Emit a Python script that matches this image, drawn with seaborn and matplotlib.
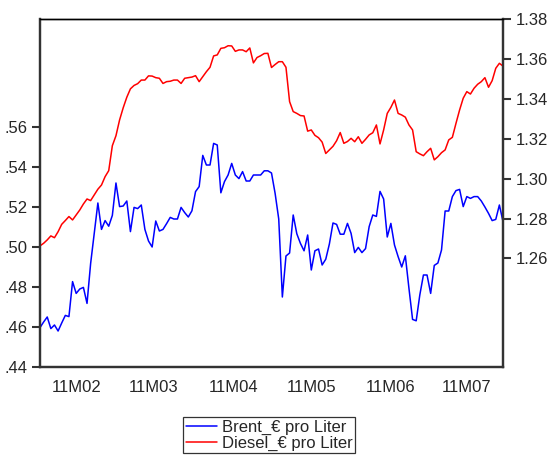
import numpy as np
import pandas as pd
import matplotlib
matplotlib.use('Agg')
import matplotlib.pyplot as plt
import matplotlib.ticker as mticker
import seaborn as sns

# Werktage Feb - Jul 2011
dates = pd.bdate_range('2011-02-01', '2011-07-29')

brent = [
    .4597, .4625, .4650, .4592, .4610, .4580, .4620, .4658, .4652, .4827,
    .4768, .4790, .4798, .4718, .4918, .5068, .5220, .5088, .5132, .5104,
    .5158, .5320, .5202, .5205, .5230, .5077, .5198, .5192, .5210, .5088,
    .5030, .5000, .5130, .5080, .5088, .5117, .5148, .5140, .5140, .5198,
    .5172, .5150, .5181, .5277, .5302, .5458, .5410, .5410, .5518, .5510,
    .5271, .5327, .5360, .5418, .5360, .5342, .5377, .5330, .5330, .5360,
    .5360, .5360, .5381, .5381, .5370, .5268, .5140, .4750, .4955, .4970,
    .5160, .5066, .5018, .4981, .5060, .4885, .4981, .4990, .4910, .4939,
    .5015, .5120, .5113, .5064, .5064, .5118, .5068, .4972, .4998, .4972,
    .4992, .5102, .5160, .5153, .5278, .5240, .5050, .5118, .5010, .4952,
    .4900, .4956, .4793, .4638, .4631, .4760, .4860, .4860, .4768, .4908,
    .4920, .4985, .5180, .5180, .5252, .5282, .5288, .5202, .5252, .5243,
    .5252, .5252, .5230, .5200, .5168, .5132, .5138, .5210, .5127,
]

diesel = [
    1.2663, 1.2676, 1.2693, 1.2713, 1.2704, 1.2734, 1.2771, 1.2790, 1.2810, 1.2793,
    1.2818, 1.2843, 1.2873, 1.2898, 1.2890, 1.2918, 1.2947, 1.2968, 1.3010, 1.3040,
    1.3165, 1.3215, 1.3294, 1.3355, 1.3408, 1.3450, 1.3467, 1.3476, 1.3494, 1.3494,
    1.3515, 1.3514, 1.3506, 1.3503, 1.3477, 1.3486, 1.3488, 1.3494, 1.3494, 1.3477,
    1.3503, 1.3506, 1.3509, 1.3516, 1.3486, 1.3511, 1.3536, 1.3558, 1.3615, 1.3620,
    1.3653, 1.3656, 1.3666, 1.3665, 1.3638, 1.3645, 1.3645, 1.3636, 1.3655, 1.3580,
    1.3607, 1.3616, 1.3627, 1.3628, 1.3557, 1.3572, 1.3586, 1.3586, 1.3558, 1.3386,
    1.3336, 1.3327, 1.3316, 1.3314, 1.3238, 1.3244, 1.3217, 1.3205, 1.3183, 1.3126,
    1.3144, 1.3162, 1.3190, 1.3231, 1.3177, 1.3186, 1.3202, 1.3185, 1.3210, 1.3177,
    1.3197, 1.3219, 1.3230, 1.3269, 1.3174, 1.3244, 1.3327, 1.3357, 1.3394, 1.3327,
    1.3319, 1.3308, 1.3269, 1.3244, 1.3135, 1.3124, 1.3115, 1.3135, 1.3152, 1.3094,
    1.3110, 1.3130, 1.3144, 1.3194, 1.3207, 1.3277, 1.3344, 1.3403, 1.3436, 1.3424,
    1.3453, 1.3473, 1.3486, 1.3506, 1.3458, 1.3491, 1.3553, 1.3578, 1.3564,
]

left_ticks = [.44, .46, .48, .50, .52, .54, .56]
right_ticks = [1.26, 1.28, 1.30, 1.32, 1.34, 1.36, 1.38]
month_labels = ['11M02', '11M03', '11M04', '11M05', '11M06', '11M07']

df = pd.DataFrame({'pos': np.arange(len(dates)), 'Brent': brent, 'Diesel': diesel})

sns.set_style('white')
plt.rcParams['font.family'] = ['Liberation Sans', 'DejaVu Sans']
plt.rcParams['font.size'] = 12

fig = plt.figure(figsize=(5.51, 4.59), dpi=100)
ax = fig.add_axes([40/551, 1 - 367/459, 463/551, 348/459])
ax2 = ax.twinx()

sns.lineplot(data=df, x='pos', y='Brent', ax=ax, color='#0000FF', lw=1.1,
             label='Brent_€ pro Liter', legend=False)
sns.lineplot(data=df, x='pos', y='Diesel', ax=ax2, color='#FF0000', lw=1.1,
             label='Diesel_€ pro Liter', legend=False)

ax.set_xlim(0, len(dates) - 1)
ax.set_ylim(.44, .614)
ax2.set_ylim(1.2056, 1.38)

# Monatsgrenzen und Beschriftung in der Monatsmitte
month_id = dates.to_period('M')
starts = [i for i in range(len(dates)) if i == 0 or month_id[i] != month_id[i - 1]]
ends = starts[1:] + [len(dates) - 1]
ax.set_xticks(starts)
ax.set_xticklabels([])
ax.set_xticks([(s + e) / 2 for s, e in zip(starts, ends)], minor=True)
ax.set_xticklabels(month_labels, minor=True)
ax.tick_params(axis='x', which='minor', length=0, pad=9, labelsize=12)
ax.tick_params(axis='x', which='major', direction='out', length=6, width=1.5, color='#333333')

ax.set_yticks(left_ticks)
ax.yaxis.set_major_formatter(mticker.FuncFormatter(lambda v, p: f'{v:.2f}'.lstrip('0')))
ax.tick_params(axis='y', direction='out', length=6, width=1.5, color='#333333', pad=3, labelsize=12)
ax2.set_yticks(right_ticks)
ax2.yaxis.set_major_formatter(mticker.FormatStrFormatter('%.2f'))
ax2.tick_params(axis='y', direction='out', length=6, width=1.5, color='#333333', pad=3, labelsize=12)

ax.set_xlabel('')
ax.set_ylabel('')
ax2.set_ylabel('')

for a in (ax, ax2):
    for side in ('left', 'right', 'bottom'):
        a.spines[side].set_linewidth(1.6)
        a.spines[side].set_color('#333333')
    a.spines['top'].set_linewidth(1.0)
    a.spines['top'].set_color('black')

handles = ax.get_lines()[:1] + ax2.get_lines()[:1]
labels = ['Brent_€ pro Liter', 'Diesel_€ pro Liter']
leg = fig.legend(handles, labels, loc='upper left', bbox_to_anchor=(183/551, 1 - 417/459),
                 frameon=True, fancybox=False, framealpha=1, edgecolor='#333333',
                 fontsize=12, handlelength=1.9, handletextpad=0.3, labelspacing=0.05,
                 borderpad=0.15, borderaxespad=0)
leg.get_frame().set_linewidth(0.9)

fig.savefig('out.png', dpi=100)
